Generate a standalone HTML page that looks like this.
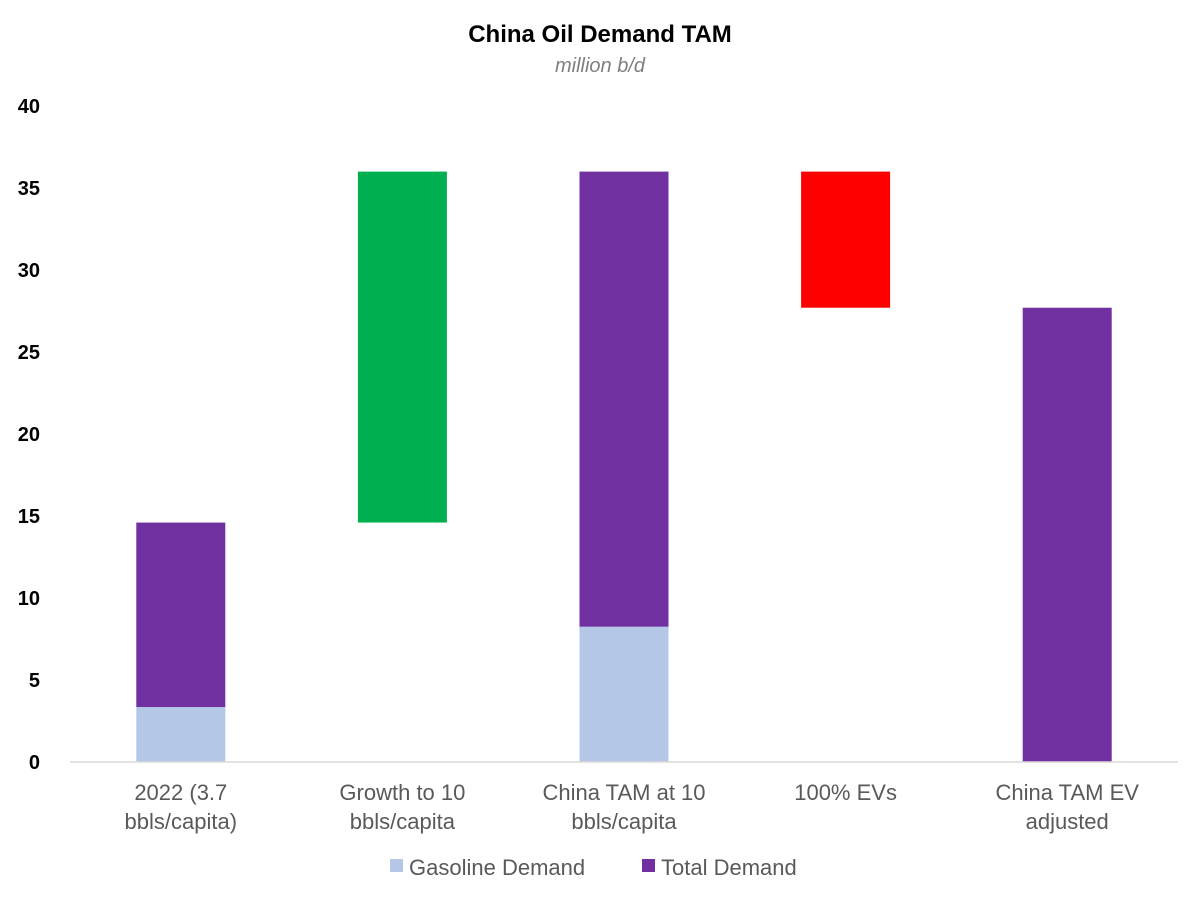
<!DOCTYPE html>
<html><head><meta charset="utf-8"><style>
body{margin:0;background:#fff;font-family:"Liberation Sans",Arial,sans-serif}
</style></head><body>
<svg width="1200" height="900" xmlns="http://www.w3.org/2000/svg" font-family="Liberation Sans, Arial, sans-serif">
<text x="600" y="42" text-anchor="middle" font-size="24" font-weight="bold" fill="#000">China Oil Demand TAM</text>
<text x="600" y="72" text-anchor="middle" font-size="20" font-style="italic" fill="#7f7f7f">million b/d</text>
<g id="yaxis"></g>
<g id="bars"></g>
<line x1="70" y1="762" x2="1178" y2="762" stroke="#d9d9d9" stroke-width="1.5"/>
<g id="xlabels"></g>
<g>
<rect x="390" y="859" width="13" height="13" fill="#B4C7E7"/>
<text x="409" y="875" font-size="22" fill="#595959">Gasoline Demand</text>
<rect x="642" y="859" width="13" height="13" fill="#7030A0"/>
<text x="661" y="875" font-size="22" fill="#595959">Total Demand</text>
</g>
</svg>
<script>
const categories=[["2022 (3.7","bbls/capita)"],["Growth to 10","bbls/capita"],["China TAM at 10","bbls/capita"],["100% EVs"],["China TAM EV","adjusted"]];
const gasoline=[3.35,0,8.25,0,0];
const base=[0,14.6,0,27.7,0];
const totalTop=[14.6,null,36,null,27.7];
const growth=[0,21.4,0,0,0];
const decline=[0,0,0,8.3,0];
const yTicks=[0,5,10,15,20,25,30,35,40];
const NS="http://www.w3.org/2000/svg";
const y0=762,y40=106;
const yScale=v=>y0-(y0-y40)*v/40;
const x0=70,cw=221.6,bw=89;
const xCenter=i=>x0+cw*(i+0.5);
function mk(tag,attrs,parent){const e=document.createElementNS(NS,tag);for(const k in attrs)e.setAttribute(k,attrs[k]);parent.appendChild(e);return e;}
const ya=document.getElementById('yaxis');
yTicks.forEach(t=>{const e=mk('text',{x:40,y:yScale(t)+7,'text-anchor':'end','font-size':20,'font-weight':'bold',fill:'#000'},ya);


e.textContent=t;});
const bg=document.getElementById('bars');
function bar(i,lo,hi,color,name){const r=mk('rect',{x:xCenter(i)-bw/2,y:yScale(hi),width:bw,height:yScale(lo)-yScale(hi),fill:color},bg);

}
categories.forEach((c,i)=>{
if(gasoline[i]>0)bar(i,0,gasoline[i],'#B4C7E7','bar-gasoline-'+i);
if(totalTop[i]!==null)bar(i,gasoline[i],totalTop[i],'#7030A0','bar-total-'+i);
if(growth[i]>0)bar(i,base[i],base[i]+growth[i],'#00B050','bar-growth-'+i);
if(decline[i]>0)bar(i,base[i],base[i]+decline[i],'#FF0000','bar-decline-'+i);
});
const xl=document.getElementById('xlabels');
categories.forEach((c,i)=>{c.forEach((line,j)=>{const e=mk('text',{x:xCenter(i),y:800+j*29,'text-anchor':'middle','font-size':22,fill:'#595959'},xl);


e.textContent=line;});});
</script>
</body></html>
